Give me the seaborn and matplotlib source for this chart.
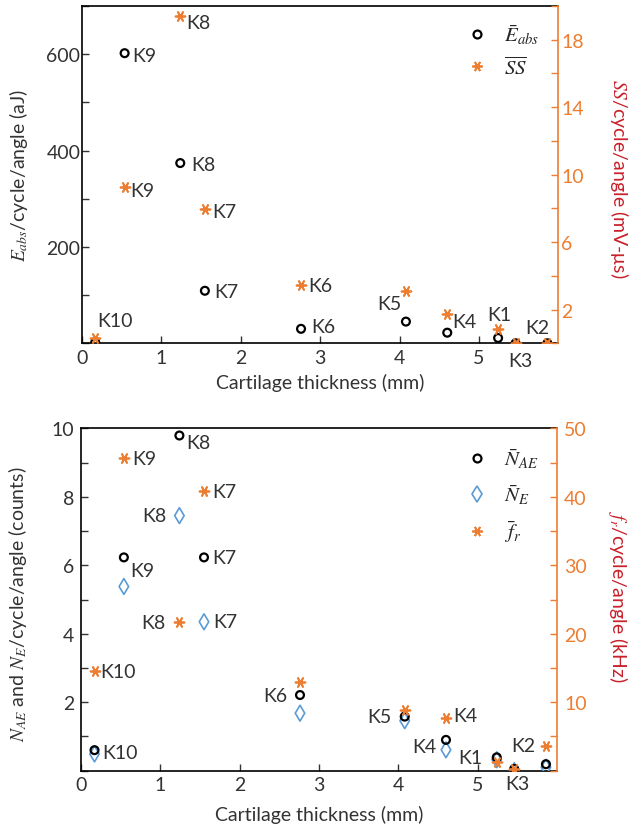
import numpy as np
import pandas as pd
import matplotlib
matplotlib.use("Agg")
import matplotlib.pyplot as plt
from matplotlib.lines import Line2D
import seaborn as sns

# ---------------- data ----------------
samples = ["K10", "K9", "K8", "K7", "K6", "K5", "K4", "K1", "K3", "K2"]
thickness = [0.17, 0.54, 1.24, 1.55, 2.76, 4.08, 4.60, 5.24, 5.46, 5.86]

e_abs = [2, 602, 374, 109, 30, 45, 22, 11, 0, 0]              # aJ (left, top)
ss = [0.3, 9.25, 19.4, 7.95, 3.45, 3.1, 1.75, 0.85, 0.0, 0.0]  # mV-us (right, top)

n_ae = [0.60, 6.23, 9.79, 6.23, 2.21, 1.58, 0.90, 0.39, 0.05, 0.19]  # counts (left, bottom)
n_e = [0.49, 5.38, 7.45, 4.35, 1.68, 1.46, 0.61, 0.32, 0.0, 0.10]    # counts (left, bottom)
f_r = [14.5, 45.6, 21.7, 40.8, 13.0, 8.9, 7.7, 1.3, 0.25, 3.65]      # kHz (right, bottom)

x_ticks = [0, 1, 2, 3, 4, 5]

# ---------------- style ----------------
sns.set_style("ticks")
plt.rcParams["font.family"] = ["Lato", "DejaVu Sans"]
plt.rcParams["mathtext.fontset"] = "stix"
FS = 14
plt.rcParams["font.size"] = FS

ORANGE = "#ED7D31"
RED = "#C8202A"
BLUE = "#5B9BD5"
TXT = "#333333"
STAR = (6, 2, 90)

df = pd.DataFrame({"sample": samples, "t": thickness, "e": e_abs, "ss": ss,
                   "nae": n_ae, "ne": n_e, "fr": f_r})

fig = plt.figure(figsize=(6.31, 8.28), dpi=100)
ax1 = fig.add_axes([0.1295, 0.5842, 0.7556, 0.4074])
ax1r = ax1.twinx()
ax2 = fig.add_axes([0.1284, 0.0680, 0.7544, 0.4135])
ax2r = ax2.twinx()

circ_kw = dict(marker="o", s=32, facecolor="none", edgecolor="black", linewidth=1.6, zorder=3)
star_kw = dict(marker=STAR, s=50, color=ORANGE, edgecolor=ORANGE, linewidth=1.3, zorder=4)
diam_kw = dict(marker="d", s=65, facecolor="none", edgecolor=BLUE, linewidth=1.2, zorder=3)

# top panel
sns.scatterplot(data=df, x="t", y="e", ax=ax1, legend=False, **circ_kw)
sns.scatterplot(data=df, x="t", y="ss", ax=ax1r, legend=False, **star_kw)
# bottom panel
sns.scatterplot(data=df, x="t", y="ne", ax=ax2, legend=False, **diam_kw)
sns.scatterplot(data=df, x="t", y="nae", ax=ax2, legend=False, **circ_kw)
sns.scatterplot(data=df, x="t", y="fr", ax=ax2r, legend=False, **star_kw)

for a in (ax1, ax2):
    a.set_xlim(0, 6)
    a.set_xticks(x_ticks)
    a.set_xticklabels([str(v) for v in x_ticks])
    a.tick_params(axis="x", direction="in", length=5, width=1, labelsize=FS, pad=4, colors=TXT)
    for s in ("left", "bottom", "top"):
        a.spines[s].set_color("black")
        a.spines[s].set_linewidth(1.2)
    a.spines["right"].set_visible(False)
    a.set_xlabel("Cartilage thickness (mm)", fontsize=FS, color=TXT, va="center")

for ar in (ax1r, ax2r):
    ar.spines["right"].set_color(ORANGE)
    ar.spines["right"].set_linewidth(1.2)
    for s in ("left", "bottom", "top"):
        ar.spines[s].set_visible(False)
    ar.tick_params(axis="y", direction="in", length=5, width=1, colors=ORANGE, labelsize=FS)

# top axis scales
ax1.set_ylim(0, 700)
ax1.set_yticks(np.arange(0, 701, 100))
ax1.set_yticklabels(["" if v not in (200, 400, 600) else str(v) for v in range(0, 701, 100)])
ax1.tick_params(axis="y", direction="in", length=5, width=1, labelsize=FS, pad=1, colors=TXT)
ax1r.set_ylim(0, 20)
ax1r.set_yticks(np.arange(0, 21, 2))
ax1r.set_yticklabels(["" if v not in (2, 6, 10, 14, 18) else str(v) for v in range(0, 21, 2)])
ax1r.tick_params(axis="y", pad=2)

# bottom axis scales
ax2.set_ylim(0, 10)
ax2.set_yticks(np.arange(0, 11, 1))
ax2.set_yticklabels(["" if v not in (2, 4, 6, 8, 10) else str(v) for v in range(0, 11)])
ax2.tick_params(axis="y", direction="in", length=5, width=1, labelsize=FS, pad=5, colors=TXT)
ax2r.set_ylim(0, 50)
ax2r.set_yticks(np.arange(0, 51, 5))
ax2r.set_yticklabels(["" if v not in (10, 20, 30, 40, 50) else str(v) for v in range(0, 51, 5)])
ax2r.tick_params(axis="y", pad=5)

# axis labels
ax1.set_ylabel(r"$E_{abs}$/cycle/angle (aJ)", fontsize=FS, color=TXT, va="center")
ax1.yaxis.set_label_coords(-0.1336, 0.5)
ax1.xaxis.set_label_coords(0.5, -0.1147)
ax1r.set_ylabel(r"$SS$/cycle/angle (mV-μs)", fontsize=FS, color=RED, rotation=270, va="center")
ax1r.yaxis.set_label_coords(1.127, 0.49)

ax2.set_ylabel(r"$N_{AE}$ and $N_{E}$/cycle/angle (counts)", fontsize=FS, color=TXT, va="center")
ax2.yaxis.set_label_coords(-0.1324, 0.49)
ax2.xaxis.set_label_coords(0.5, -0.1265)
ax2r.set_ylabel(r"$f_r$/cycle/angle (kHz)", fontsize=FS, color=RED, rotation=270, va="center")
ax2r.yaxis.set_label_coords(1.128, 0.51)

# ---------------- point labels (offsets in pixels) ----------------
def lab(ax, x, y, text, dx, dy, ha="left"):
    ax.annotate(text, (x, y), xytext=(dx, dy), textcoords="offset pixels",
                ha=ha, va="center", fontsize=FS, color=TXT, zorder=5)

i = {s: k for k, s in enumerate(samples)}
T = thickness
# top panel
lab(ax1, T[i["K10"]], e_abs[i["K10"]], "K10", 20, 22, "center")
lab(ax1, T[i["K9"]], e_abs[i["K9"]], "K9", 8, -2)
lab(ax1, T[i["K8"]], e_abs[i["K8"]], "K8", 11, -1)
lab(ax1, T[i["K7"]], e_abs[i["K7"]], "K7", 9, -1)
lab(ax1, T[i["K6"]], e_abs[i["K6"]], "K6", 10, 2)
lab(ax1, T[i["K5"]], e_abs[i["K5"]], "K5", -4, 18, "right")
lab(ax1r, T[i["K9"]], ss[i["K9"]], "K9", 6, -3)
lab(ax1r, T[i["K8"]], ss[i["K8"]], "K8", 6, -6)
lab(ax1r, T[i["K7"]], ss[i["K7"]], "K7", 7, -2)
lab(ax1r, T[i["K6"]], ss[i["K6"]], "K6", 7, 0)
lab(ax1r, T[i["K4"]], ss[i["K4"]], "K4", 5, -8)
lab(ax1r, T[i["K1"]], ss[i["K1"]], "K1", 1, 14, "center")
lab(ax1r, T[i["K3"]], ss[i["K3"]], "K3", 5, -17, "center")
lab(ax1r, T[i["K2"]], ss[i["K2"]], "K2", -10, 16, "center")

# bottom panel
lab(ax2, T[i["K8"]], n_ae[i["K8"]], "K8", 7, -7)
lab(ax2, T[i["K9"]], n_ae[i["K9"]], "K9", 6, -13)
lab(ax2, T[i["K7"]], n_ae[i["K7"]], "K7", 8, 0)
lab(ax2, T[i["K6"]], n_ae[i["K6"]], "K6", -13, 0, "right")
lab(ax2, T[i["K10"]], n_ae[i["K10"]], "K10", 8, -2)
lab(ax2, T[i["K5"]], n_ae[i["K5"]], "K5", -13, 0, "right")
lab(ax2, T[i["K4"]], n_ae[i["K4"]], "K4", -10, -7, "right")
lab(ax2, T[i["K1"]], n_ae[i["K1"]], "K1", -14, 0, "right")
lab(ax2, T[i["K3"]], n_ae[i["K3"]], "K3", 3, -15, "center")
lab(ax2, T[i["K8"]], n_e[i["K8"]], "K8", -13, 0, "right")
lab(ax2, T[i["K7"]], n_e[i["K7"]], "K7", 9, 0)
lab(ax2r, T[i["K9"]], f_r[i["K9"]], "K9", 8, 0)
lab(ax2r, T[i["K7"]], f_r[i["K7"]], "K7", 8, 0)
lab(ax2r, T[i["K8"]], f_r[i["K8"]], "K8", -14, 0, "right")
lab(ax2r, T[i["K10"]], f_r[i["K10"]], "K10", 6, 0)
lab(ax2r, T[i["K4"]], f_r[i["K4"]], "K4", 7, 2)
lab(ax2r, T[i["K2"]], f_r[i["K2"]], "K2", -11, 0, "right")

# ---------------- legends ----------------
h_circ = Line2D([], [], ls="none", marker="o", ms=5.7, mfc="none", mec="black", mew=1.6)
h_star = Line2D([], [], ls="none", marker=STAR, ms=7.5, color=ORANGE, mew=1.3)
h_diam = Line2D([], [], ls="none", marker="d", ms=8.5, mfc="none", mec=BLUE, mew=1.2)

ax1r.legend([h_circ, h_star], [r"$\bar{E}_{abs}$", r"$\overline{SS}$"],
            loc="upper right", bbox_to_anchor=(0.99, 0.995), frameon=False,
            fontsize=15, handletextpad=0.3, labelspacing=0.45, borderaxespad=0.3)
ax2r.legend([h_circ, h_diam, h_star], [r"$\bar{N}_{AE}$", r"$\bar{N}_{E}$", r"$\bar{f}_{r}$"],
            loc="upper right", bbox_to_anchor=(0.993, 0.99), frameon=False,
            fontsize=15, handletextpad=0.3, labelspacing=0.6, borderaxespad=0.3)

fig.savefig("out.png", dpi=100)
